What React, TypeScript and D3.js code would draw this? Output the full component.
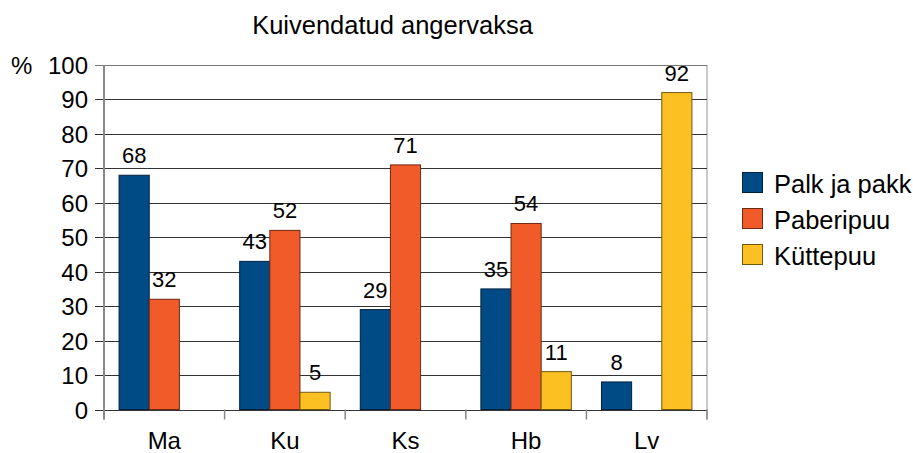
import * as d3 from "d3";
import { useEffect, useRef } from "react";

const categories = ["Ma", "Ku", "Ks", "Hb", "Lv"];
const seriesNames = ["Palk ja pakk", "Paberipuu", "Küttepuu"];
const palkJaPakk = [68, 43, 29, 35, 8];
const paberipuu = [32, 52, 71, 54, null];
const kuttepuu = [null, 5, null, 11, 92];
const yTicks = [0, 10, 20, 30, 40, 50, 60, 70, 80, 90, 100];
const colors = ["#004a86", "#f15a29", "#fdc023"];

const FONT = "'Liberation Sans', Arial, sans-serif";

function App() {
  const svgRef = useRef(null);

  useEffect(() => {
    const svg = d3.select(svgRef.current);
    svg.selectAll("*").remove();

    const left = 104, right = 707, top = 65, bottom = 409.5;
    const values = [palkJaPakk, paberipuu, kuttepuu];

    const x0 = d3.scaleBand().domain(categories).range([left, right]).paddingInner(0.25).paddingOuter(0.125);
    const x1 = d3.scaleBand().domain(seriesNames).range([0, x0.bandwidth()]);
    const y = d3.scaleLinear().domain([0, 100]).range([bottom, top]);
    const step = x0.step();

    // title
    svg.append("text")
      .attr("x", 392.5).attr("y", 34)
      .attr("text-anchor", "middle")
      .style("font-size", "25.5px")
      .text("Kuivendatud angervaksa");

    // right border of plot area
    svg.append("line")
      .attr("x1", right).attr("x2", right).attr("y1", top).attr("y2", bottom + 10)
      .attr("stroke", "#b8b8b8").attr("stroke-width", 1.5);

    // gridlines + y ticks
    const g = svg.append("g");
    g.selectAll(".grid").data(yTicks).enter().append("line")
      .attr("x1", left - 9).attr("x2", right)
      .attr("y1", (d) => Math.round(y(d)) + 0.5).attr("y2", (d) => Math.round(y(d)) + 0.5)
      .attr("stroke", (d) => (d === 100 ? "#777" : "#333")).attr("stroke-width", 1.2);
    g.selectAll(".ylab").data(yTicks).enter().append("text")
      .attr("x", 88).attr("y", (d) => y(d) + 9)
      .attr("text-anchor", "end")
      .style("font-size", "24px")
      .text((d) => d);
    svg.append("text").attr("x", 11).attr("y", y(100) + 9).style("font-size", "24px").text("%");

    // category ticks
    svg.selectAll(".xt").data(d3.range(categories.length + 1)).enter().append("line")
      .attr("x1", (i) => left + i * step).attr("x2", (i) => left + i * step)
      .attr("y1", bottom).attr("y2", bottom + 10)
      .attr("stroke", "#888").attr("stroke-width", 1.5);
    svg.selectAll(".xl").data(categories).enter().append("text")
      .attr("x", (d) => x0(d) + x0.bandwidth() / 2).attr("y", 449)
      .attr("text-anchor", "middle")
      .style("font-size", "24px")
      .text((d) => d);

    // bars
    seriesNames.forEach((s, si) => {
      const pts = categories.map((c, ci) => ({ c, v: values[si][ci] })).filter((p) => p.v != null);
      const sg = svg.append("g");
      sg.selectAll("rect").data(pts).enter().append("rect")
        .attr("x", (p) => x0(p.c) + x1(s))
        .attr("y", (p) => y(p.v))
        .attr("width", x1.bandwidth())
        .attr("height", (p) => y(0) - y(p.v))
        .attr("fill", colors[si])
        .attr("stroke", d3.color(colors[si]).darker(2.2).toString())
        .attr("stroke-width", 1);
      sg.selectAll("text").data(pts).enter().append("text")
        .attr("x", (p) => x0(p.c) + x1(s) + x1.bandwidth() / 2)
        .attr("y", (p) => y(p.v) - 12)
        .attr("text-anchor", "middle")
        .style("font-size", "22px")
        .text((p) => p.v);
    });

    // left axis
    svg.append("line")
      .attr("x1", left).attr("x2", left).attr("y1", top).attr("y2", bottom + 10)
      .attr("stroke", "#888").attr("stroke-width", 2);

    // legend
    const lg = svg.append("g");
    seriesNames.forEach((s, i) => {
      lg.append("rect")
        .attr("x", 742.5).attr("y", 172.5 + i * 36)
        .attr("width", 20).attr("height", 20)
        .attr("fill", colors[i])
        .attr("stroke", d3.color(colors[i]).darker(2.2).toString());
      lg.append("text")
        .attr("x", 774).attr("y", 193 + i * 36)
        .style("font-size", "25.5px")
        .text(s);
    });
  }, []);

  return (
    <svg
      ref={svgRef}
      width={913}
      height={453}
      style={{ position: "absolute", left: 0, top: 0, fontFamily: FONT, background: "#fff" }}
    />
  );
}

export default App;
